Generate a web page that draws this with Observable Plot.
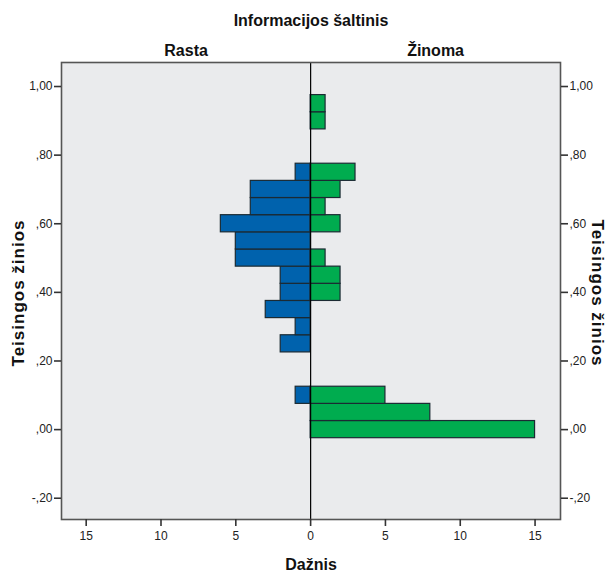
<!DOCTYPE html>
<html>
<head>
<meta charset="utf-8">
<script src="https://cdn.jsdelivr.net/npm/d3@7"></script>
<script src="https://cdn.jsdelivr.net/npm/@observablehq/plot@0.6"></script>
<style>
  html, body { margin: 0; padding: 0; background: #fff; }
  #chart { width: 612px; height: 573px; }
</style>
</head>
<body>
<div id="chart"></div>
<script>
// Bin centres of "Teisingos žinios" (bin width 0.05)
const bins = [0.00, 0.05, 0.10, 0.15, 0.20, 0.25, 0.30, 0.35, 0.40, 0.45,
              0.50, 0.55, 0.60, 0.65, 0.70, 0.75, 0.80, 0.85, 0.90, 0.95];
// Frequencies (Dažnis) per bin
const rasta  = [0, 0, 1, 0, 0, 2, 1, 3, 2, 2, 5, 5, 6, 4, 4, 1, 0, 0, 0, 0];
const zinoma = [15, 8, 5, 0, 0, 0, 0, 0, 2, 2, 1, 0, 2, 1, 2, 3, 0, 0, 1, 1];
const yTicks = [-0.2, 0, 0.2, 0.4, 0.6, 0.8, 1.0];
const xTicks = [-15, -10, -5, 0, 5, 10, 15];
const binWidth = 0.05;

const groups = ["Rasta", "Žinoma"];
const colors = ["#0062AD", "#00AC4F"];

const rows = [];
bins.forEach((b, i) => {
  if (rasta[i] > 0) rows.push({g: groups[0], y: b, v: -rasta[i]});
  if (zinoma[i] > 0) rows.push({g: groups[1], y: b, v: zinoma[i]});
});

const xDomain = [-16.65, 16.7];
const yDomain = [-0.262, 1.07];
const fmtY = d => {
  let s = Math.abs(d).toFixed(2).replace(".", ",");
  if (s.startsWith("0")) s = s.slice(1);
  return (d < 0 ? "-" : "") + s;
};
const font = "'Liberation Sans', Arial, sans-serif";
const titleStyle = {fontWeight: "bold", fill: "#111", lineAnchor: "middle", textAnchor: "middle"};

const chart = Plot.plot({
  width: 612,
  height: 573,
  marginTop: 62,
  marginBottom: 54,
  marginLeft: 61,
  marginRight: 52,
  style: {fontFamily: font, fontSize: "12px", color: "#222", background: "#fff"},
  x: {domain: xDomain, axis: null},
  y: {domain: yDomain, axis: null},
  color: {domain: groups, range: colors},
  marks: [
    Plot.frame({fill: "#EAEBED"}),
    Plot.rectX(rows, {
      x1: 0, x2: "v",
      y1: d => d.y - binWidth / 2, y2: d => d.y + binWidth / 2,
      fill: "g", stroke: "#1b2a33", strokeWidth: 1.2, inset: 0
    }),
    Plot.ruleX([0], {stroke: "#000", strokeWidth: 1.2}),
    Plot.frame({stroke: "#555", strokeWidth: 1.6}),
    Plot.axisY({anchor: "left", ticks: yTicks, tickFormat: fmtY, tickSize: 7, tickPadding: 2,
      stroke: "#333", strokeWidth: 1.6, fontSize: 12, label: null}),
    Plot.axisY({anchor: "right", ticks: yTicks, tickFormat: fmtY, tickSize: 7, tickPadding: 2,
      stroke: "#333", strokeWidth: 1.6, fontSize: 12, label: null}),
    Plot.axisX({anchor: "bottom", ticks: xTicks, tickFormat: d => Math.abs(d), tickSize: 7,
      tickPadding: 5, stroke: "#333", strokeWidth: 1.6, fontSize: 12, label: null}),
    // titles
    Plot.text(["Informacijos šaltinis"], {...titleStyle, frameAnchor: "top", dy: -42, fontSize: 16}),
    Plot.text([groups[0]], {...titleStyle, x: xDomain[0] / 2, frameAnchor: "top", dy: -12, fontSize: 16}),
    Plot.text([groups[1]], {...titleStyle, x: xDomain[1] / 2, frameAnchor: "top", dy: -12, fontSize: 16}),
    Plot.text(["Teisingos žinios"], {...titleStyle, frameAnchor: "left", dx: -43, dy: 2, rotate: -90, fontSize: 17}),
    Plot.text(["Teisingos žinios"], {...titleStyle, frameAnchor: "right", dx: 37, dy: 2, rotate: 90, fontSize: 17}),
    Plot.text(["Dažnis"], {...titleStyle, frameAnchor: "bottom", dy: 45, fontSize: 16})
  ]
});
// slight letter spacing for the vertical axis titles (as in the reference)
chart.querySelectorAll("text").forEach(t => {
  if (t.textContent === "Teisingos žinios") t.setAttribute("letter-spacing", "1px");
});
document.getElementById("chart").appendChild(chart);
</script>
</body>
</html>
